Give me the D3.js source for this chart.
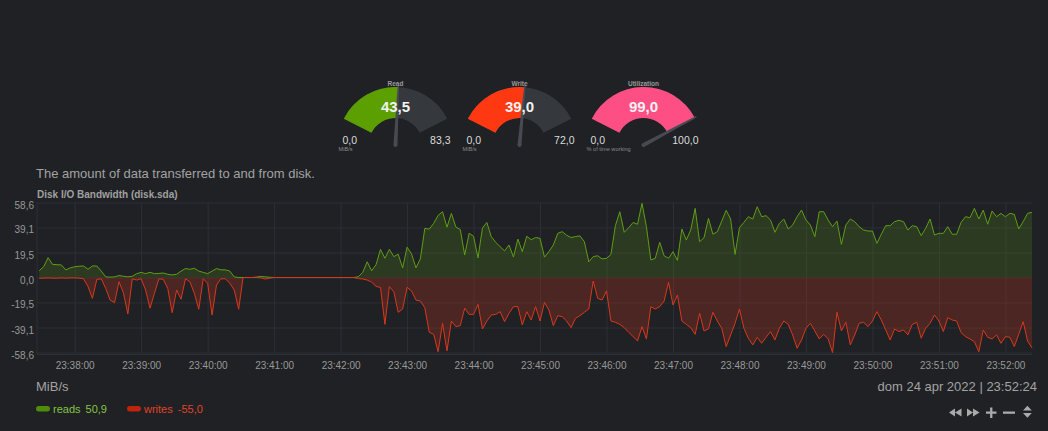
<!DOCTYPE html>
<html>
<head>
<meta charset="utf-8">
<script src="https://cdn.jsdelivr.net/npm/d3@7"></script>
<style>
  html, body { margin: 0; padding: 0; background: #1f2124; }
  svg { display: block; font-family: "Liberation Sans", Arial, Helvetica, sans-serif; }
</style>
</head>
<body>
<svg id="chart" width="1048" height="431"></svg>
<script>
(function() {
  'use strict';

  // ---- data ----
  const lastUpdate = new Date(2022, 3, 24, 23, 52, 24);
  const sampleStep = 4;  // seconds between points

  const readValues = [
    5.3, 8.4, 15.5, 10.3, 10, 9.8, 5.9, 7.5, 8.4, 8.8,
    9, 6.4, 9, 9, 5, 0.5, 0.3, 0.5, 1.5, 1,
    0.5, 1, 3, 4, 3, 4, 3, 3.2, 3.5, 2.5,
    2, 2.5, 5, 7, 6.4, 7.2, 5, 4, 3, 5,
    7, 6, 6, 5, 0.5, 0, 0, 0, 0, 0.3,
    0.8, 0.5, 0.2, 0, 0, 0, 0, 0, 0, 0,
    0, 0, 0, 0, 0, 0, 0, 0, 0, 0,
    0, 0, 0.6, 4, 12.3, 5.3, 10, 22, 15, 22,
    16.3, 18.2, 7.5, 23.7, 18.5, 7.5, 14.6, 38.4, 37.8, 42.3,
    48.5, 51.4, 39.3, 50.1, 39.5, 37.5, 17.6, 34.5, 32.2, 15.3,
    38.7, 43, 31.9, 27.5, 24, 20.8, 25.4, 16, 30, 20.2,
    32.2, 29.5, 31.2, 30.6, 15.9, 20.2, 25.4, 34.5, 35.8, 33,
    31.2, 32, 32.5, 28, 12.3, 16.3, 17, 14.5, 15, 18,
    40.5, 51.4, 35.3, 38.9, 43, 41.6, 58, 39.7, 13.7, 15,
    27.5, 17, 15, 20.2, 13.4, 37.9, 29.3, 37.1, 54, 28,
    31.1, 46.2, 33.8, 35.8, 44.1, 52.5, 45.7, 18, 38.9, 43.1,
    47.5, 45.7, 55.3, 47.5, 48.3, 44.9, 35.3, 42.3, 45.7, 37.9,
    41, 47.5, 52.7, 44.9, 41, 31.9, 51.4, 51.4, 44.9, 39.7,
    44.1, 25.9, 41, 45.7, 43.6, 39.7, 37.1, 36.3, 36.3, 26.7,
    33.8, 40.5, 40.5, 43.6, 44.7, 43.6, 37.1, 40.5, 39.7, 32.7,
    38.4, 45.7, 33.2, 34.5, 34.5, 39.7, 33.8, 33.8, 43.1, 47.5,
    46.7, 54, 45.7, 52.7, 41.6, 52, 47.5, 50.1, 47.5, 50.1,
    49.4, 37.9, 43.6, 50.1, 50.9
  ];

  const writeValues = [
    -0.5, -0.5, -0.3, -0.5, -0.5, -0.3, -0.5, -0.3, -0.3, -0.5,
    -1, -7, -16.3, -1.5, -1, -8.5, -17.6, -19.7, -3.3, -12,
    -28.5, -1, -2, -1, -9.8, -24, -12.3, -1, -1.5, -8.5,
    -27.5, -9.8, -17, -1, -3.3, -12.3, -24.8, -1, -4.5, -29.3,
    -5.9, -1, -1, -4.5, -9.8, -24.8, 0, 0, 0, 0,
    -0.3, -1.2, -0.5, 0, 0, 0, 0, 0, 0, 0,
    0, 0, 0, 0, 0, 0, 0, 0, 0, 0,
    0, 0, -0.8, -1.2, -2, -3.6, -7, -7.7, -36.6, -7.2,
    -11.1, -27.2, -24.6, -7.7, -10.5, -17.6, -18.4, -23.6, -42.8, -44.4,
    -58, -35.8, -57.4, -34, -38.4, -37.6, -24, -28.8, -28.8, -21,
    -40.2, -34, -29.3, -28.8, -26.7, -34.5, -28, -22.8, -22.8, -37.1,
    -26.7, -33.2, -22.8, -34, -19.4, -25.4, -37.6, -29.8, -30.6, -34,
    -39.2, -31.9, -29.8, -27.2, -24.6, -2.7, -16.3, -17.6, -10.5, -34,
    -35, -36.6, -39.2, -42.8, -46.2, -49.6, -38.4, -48, -22.8, -24.6,
    -22.8, -18.4, -3.8, -21.5, -13.7, -34, -36.6, -39.2, -44.4, -28,
    -41.8, -40.2, -27.2, -34, -39.7, -54, -44.9, -35.8, -24.6, -39.7,
    -47.5, -52.7, -46.7, -51.4, -46.7, -42.3, -48.8, -39.7, -34, -36.6,
    -44.9, -55.3, -48.8, -39.7, -35.8, -41.8, -48, -44.4, -48, -58.6,
    -27.2, -41.8, -35, -52.7, -44.9, -35.8, -35, -38.4, -34, -26.7,
    -33.2, -41, -48.8, -40.2, -42.3, -41, -44.9, -36.6, -35, -47.5,
    -39.7, -35.8, -29.3, -34, -42.3, -31.4, -33.2, -34, -43.1, -46.2,
    -48, -50.1, -58, -41, -46.7, -48, -44.9, -51.4, -46.2, -46.7,
    -54, -44.4, -34.5, -49.6, -55
  ];

  const seriesNames = ['reads', 'writes'];
  const yTickValues = [58.6, 39.1, 19.5, 0, -19.5, -39.1, -58.6];

  const gaugeNames = ['Read', 'Write', 'Utilization'];
  const gaugeValues = [43.5, 39.0, 99.0];
  const gaugeMins = [0, 0, 0];
  const gaugeMaxs = [83.3, 72.0, 100.0];
  const gaugeUnits = ['MiB/s', 'MiB/s', '% of time working'];

  // ---- look ----
  const colors = {
    text: '#a3a3a3',
    axis: '#999',
    grid: '#2b3035',
    gaugeBack: '#35383d',
    needle: '#474b51',
    reads: '#5f9e14',
    writes: '#d9381c',
    readsFill: 'rgba(95, 158, 20, 0.2)',
    writesFill: 'rgba(217, 56, 28, 0.24)',
    readsSwatch: '#4f8c0b',
    writesSwatch: '#c0240b',
    readsLegend: '#86c443',
    writesLegend: '#e0432a',
  };
  const gaugeFills = ['#5ba000', '#fe3912', '#fe4f84'];

  const itLocale = d3.formatLocale({
    decimal: ',', thousands: '.', grouping: [3], currency: ['', ' €'], minus: '-'
  });
  const fmt = itLocale.format('.1f');
  const itTime = d3.timeFormatLocale({
    dateTime: '%A %e %B %Y, %X', date: '%d/%m/%Y', time: '%H:%M:%S',
    periods: ['AM', 'PM'],
    days: ['domenica', 'lunedì', 'martedì', 'mercoledì', 'giovedì', 'venerdì', 'sabato'],
    shortDays: ['dom', 'lun', 'mar', 'mer', 'gio', 'ven', 'sab'],
    months: ['gennaio', 'febbraio', 'marzo', 'aprile', 'maggio', 'giugno', 'luglio',
      'agosto', 'settembre', 'ottobre', 'novembre', 'dicembre'],
    shortMonths: ['gen', 'feb', 'mar', 'apr', 'mag', 'giu', 'lug', 'ago', 'set', 'ott', 'nov', 'dic'],
  });

  const svg = d3.select('#chart');

  // ---- gauges ----
  const gaugeCentersX = [395.5, 519.5, 643.5];
  const gaugeCy = 145;
  const gaugeR = 58;
  const span = Math.PI * 0.7 / 2;  // gauge.js angle 0.15

  gaugeNames.forEach(function(name, i) {
    const cx = gaugeCentersX[i];
    const angle = d3.scaleLinear()
      .domain([gaugeMins[i], gaugeMaxs[i]])
      .range([-span, span])
      .clamp(true);
    const arc = d3.arc().innerRadius(27).outerRadius(gaugeR);
    const g = svg.append('g').attr('transform', `translate(${cx}, ${gaugeCy})`);

    g.append('path')
      .attr('d', arc({startAngle: -span, endAngle: span}))
      .attr('fill', colors.gaugeBack);
    g.append('path')
      .attr('d', arc({startAngle: -span, endAngle: angle(gaugeValues[i])}))
      .attr('fill', gaugeFills[i]);

    // needle
    const deg = angle(gaugeValues[i]) * 180 / Math.PI;
    const needle = g.append('g').attr('transform', `rotate(${deg})`);
    needle.append('path')
      .attr('d', `M-2,0 L-0.7,${-gaugeR - 2} L0.7,${-gaugeR - 2} L2,0 Z`)
      .attr('fill', colors.needle);
    needle.append('circle').attr('r', 2).attr('fill', colors.needle);

    g.append('text')
      .attr('y', -59)
      .attr('text-anchor', 'middle')
      .attr('font-size', 6.5)
      .attr('font-weight', 'bold')
      .attr('fill', '#9a9a9a')
      .text(name);
    g.append('text')
      .attr('y', -33)
      .attr('text-anchor', 'middle')
      .attr('font-size', 15)
      .attr('font-weight', 'bold')
      .attr('fill', '#f2f2f2')
      .text(fmt(gaugeValues[i]));
    g.append('text')
      .attr('x', -53).attr('y', -1)
      .attr('font-size', 10.5)
      .attr('fill', '#dcdcdc')
      .text(fmt(gaugeMins[i]));
    g.append('text')
      .attr('x', 55).attr('y', -1)
      .attr('text-anchor', 'end')
      .attr('font-size', 10.5)
      .attr('fill', '#dcdcdc')
      .text(fmt(gaugeMaxs[i]));
    g.append('text')
      .attr('x', -57).attr('y', 5.5)
      .attr('font-size', 5.6)
      .attr('fill', '#8a8a8a')
      .text(gaugeUnits[i]);
  });

  // ---- chart headings ----
  svg.append('text')
    .attr('x', 36).attr('y', 178)
    .attr('font-size', 13)
    .attr('fill', colors.text)
    .text('The amount of data transferred to and from disk.');
  svg.append('text')
    .attr('x', 37).attr('y', 198)
    .attr('font-size', 10)
    .attr('font-weight', 'bold')
    .attr('fill', '#a0a0a0')
    .text('Disk I/O Bandwidth (disk.sda)');

  // ---- main chart ----
  const plot = {left: 37, right: 1032, top: 202.5, bottom: 352.5};
  const n = readValues.length;
  const times = readValues.map((_, i) =>
    d3.timeSecond.offset(lastUpdate, -(n - 1 - i) * sampleStep));

  const x = d3.scaleTime()
    .domain([d3.timeSecond.offset(times[0], -sampleStep / 2), lastUpdate])
    .range([plot.left, plot.right]);
  const y = d3.scaleLinear()
    .domain([yTickValues[yTickValues.length - 1], yTickValues[0]])
    .range([plot.bottom, plot.top]);

  const minuteTicks = d3.timeMinute.every(1);

  // grid
  const grid = svg.append('g');
  grid.append('g')
    .attr('transform', `translate(0, ${plot.bottom})`)
    .call(d3.axisBottom(x).ticks(minuteTicks)
      .tickSize(-(plot.bottom - plot.top)).tickFormat(''))
    .call(s => s.select('.domain').remove());
  grid.append('g')
    .attr('transform', `translate(${plot.left}, 0)`)
    .call(d3.axisLeft(y).tickValues(yTickValues)
      .tickSize(-(plot.right - plot.left)).tickFormat(''))
    .call(s => s.select('.domain').remove());
  grid.selectAll('line').attr('stroke', colors.grid).attr('stroke-width', 1);
  grid.append('line')
    .attr('x1', plot.left).attr('x2', plot.left)
    .attr('y1', plot.top).attr('y2', plot.bottom + 2)
    .attr('stroke', colors.grid);
  grid.append('line')
    .attr('x1', plot.left).attr('x2', plot.right)
    .attr('y1', plot.bottom + 2).attr('y2', plot.bottom + 2)
    .attr('stroke', colors.grid);

  const series = [
    {name: seriesNames[0], values: readValues, line: colors.reads, fill: colors.readsFill},
    {name: seriesNames[1], values: writeValues, line: colors.writes, fill: colors.writesFill},
  ];

  const area = d3.area()
    .x((d, i) => x(times[i]))
    .y0(y(0))
    .y1(d => y(d));
  const line = d3.line()
    .x((d, i) => x(times[i]))
    .y(d => y(d));

  series.forEach(function(s) {
    svg.append('path')
      .attr('d', area(s.values))
      .attr('fill', s.fill);
  });
  series.forEach(function(s) {
    svg.append('path')
      .attr('d', line(s.values))
      .attr('fill', 'none')
      .attr('stroke', s.line)
      .attr('stroke-width', 1)
      .attr('stroke-linejoin', 'round');
  });

  // axis labels
  const xAxis = svg.append('g')
    .attr('transform', `translate(0, ${plot.bottom})`)
    .call(d3.axisBottom(x).ticks(minuteTicks)
      .tickFormat(d3.timeFormat('%H:%M:%S')).tickSize(0).tickPadding(9));
  const yAxis = svg.append('g')
    .attr('transform', `translate(${plot.left}, 0)`)
    .call(d3.axisLeft(y).tickValues(yTickValues)
      .tickFormat(fmt).tickSize(0).tickPadding(3));
  [xAxis, yAxis].forEach(function(a) {
    a.select('.domain').remove();
    a.attr('font-family', null).attr('font-size', 10);
    a.selectAll('text').attr('fill', colors.axis);
  });
  yAxis.selectAll('text').attr('dy', '0.55em');

  // ---- footer ----
  svg.append('text')
    .attr('x', 36).attr('y', 391)
    .attr('font-size', 13)
    .attr('fill', colors.text)
    .text('MiB/s');
  svg.append('text')
    .attr('x', 1037).attr('y', 391)
    .attr('text-anchor', 'end')
    .attr('font-size', 13)
    .attr('fill', colors.text)
    .text(itTime.format('%a %d %b %Y | %H:%M:%S')(lastUpdate));

  // legend with the latest values
  const legend = [
    {x: 36, swatch: colors.readsSwatch, text: colors.readsLegend,
      name: seriesNames[0], value: readValues[n - 1]},
    {x: 127, swatch: colors.writesSwatch, text: colors.writesLegend,
      name: seriesNames[1], value: writeValues[n - 1]},
  ];
  legend.forEach(function(item) {
    const g = svg.append('g').attr('transform', `translate(${item.x}, 413)`);
    g.append('rect')
      .attr('x', 0).attr('y', -7)
      .attr('width', 14).attr('height', 5.5)
      .attr('rx', 2.75)
      .attr('fill', item.swatch);
    const t = g.append('text')
      .attr('x', 17)
      .attr('font-size', 11)
      .attr('fill', item.text);
    t.append('tspan').text(item.name);
    t.append('tspan').attr('dx', 5).text(fmt(item.value));
  });

  // navigation buttons (rewind, forward, zoom in, zoom out, resize)
  const nav = svg.append('g').attr('fill', '#aaa').attr('stroke', 'none');
  nav.append('path').attr('d',
    'M949,412.5 L955,408.5 L955,416.5 Z M955,412.5 L961.5,408.5 L961.5,416.5 Z');
  nav.append('path').attr('d',
    'M973,412.5 L967,408.5 L967,416.5 Z M979.5,412.5 L973,408.5 L973,416.5 Z');
  nav.append('path').attr('d',
    'M986,411.5 H996.5 V413.8 H986 Z M990.1,407.5 H992.4 V418 H990.1 Z');
  nav.append('path').attr('d', 'M1003,411.5 H1015 V413.8 H1003 Z');
  nav.append('path').attr('d',
    'M1023,410.5 L1027.4,405.8 L1031.8,410.5 Z M1023,413 L1031.8,413 L1027.4,417.7 Z');
})();
</script>
</body>
</html>
